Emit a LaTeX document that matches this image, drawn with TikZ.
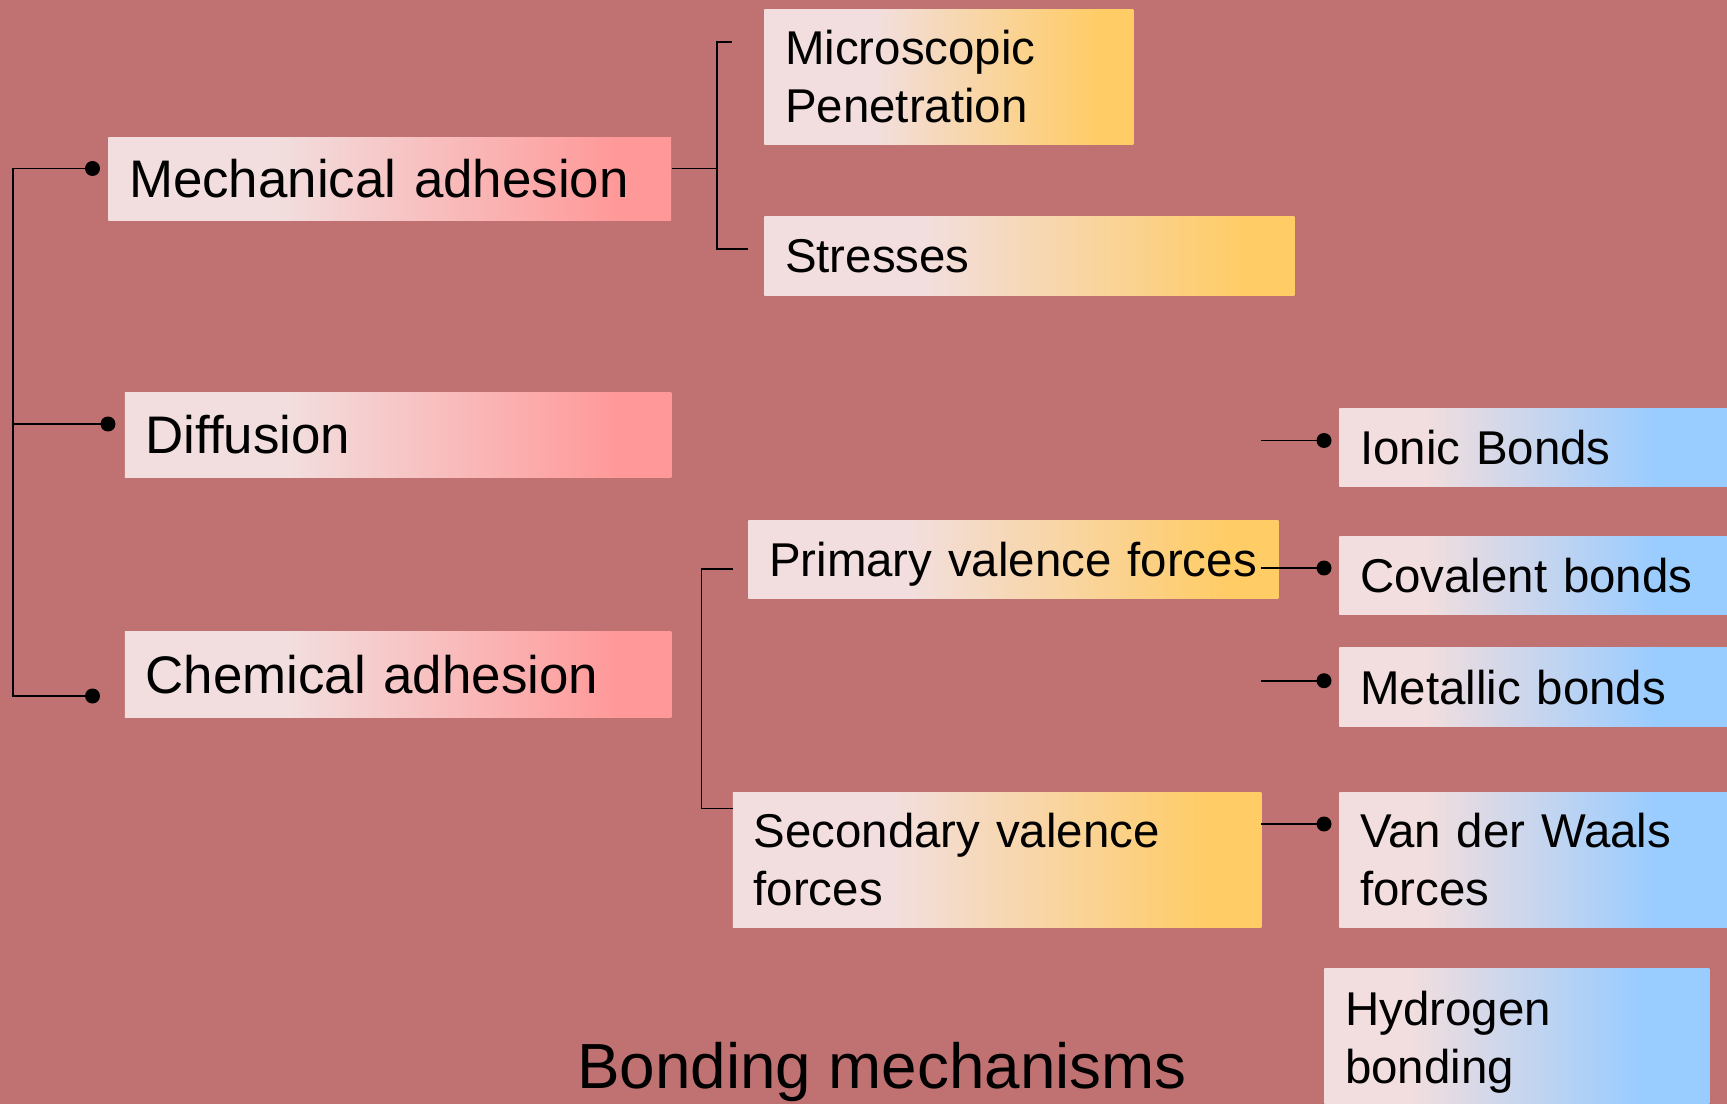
\documentclass[tikz,border=0pt]{standalone}
\usepackage{fontspec}
\setmainfont{Liberation Sans}
\definecolor{bg}{RGB}{192,114,114}
\definecolor{pale}{RGB}{242,222,222}
\definecolor{redend}{RGB}{255,153,153}
\definecolor{orangeend}{RGB}{255,204,102}
\definecolor{blueend}{RGB}{153,204,255}
\pgfdeclarehorizontalshading{redfade}{100bp}{color(0bp)=(pale); color(40bp)=(pale); color(70bp)=(redend); color(100bp)=(redend)}
\pgfdeclarehorizontalshading{orangefade}{100bp}{color(0bp)=(pale); color(40bp)=(pale); color(70bp)=(orangeend); color(100bp)=(orangeend)}
\pgfdeclarehorizontalshading{bluefade}{100bp}{color(0bp)=(pale); color(36bp)=(pale); color(66bp)=(blueend); color(100bp)=(blueend)}
\begin{document}
\begin{tikzpicture}[x=0.02cm, y=-0.02cm,
        conn/.style={line width=1.1pt},
        box/.style={anchor=north west, inner xsep=0.415cm, inner ysep=0pt, align=left, shade},
        redbox/.style={box, shading=redfade, font=\fontsize{30.1}{36}\selectfont},
        orangebox/.style={box, shading=orangefade, font=\fontsize{27}{33}\selectfont},
        bluebox/.style={box, shading=bluefade, font=\fontsize{27}{33}\selectfont}]
        \fill[bg] (0, 0) rectangle (1727, 1104);
        \useasboundingbox (0, 0) rectangle (1727, 1104);

        \node[redbox, text width=10.43cm, minimum height=1.66cm] (mech) at (108, 137) {Mechanical adhesion};
        \node[redbox, text width=10.10cm, minimum height=1.70cm] (diff) at (124.5, 392) {Diffusion};
        \node[redbox, text width=10.10cm, minimum height=1.72cm] (chem) at (124.5, 631) {Chemical adhesion};

        \node[orangebox, text width=6.55cm, minimum height=2.70cm] (micro) at (764, 9) {Microscopic\\Penetration};
        \node[orangebox, text width=9.77cm, minimum height=1.58cm] (stress) at (764, 216) {Stresses};
        \node[orangebox, text width=9.77cm, minimum height=1.56cm, text depth=0pt] (prim) at (748, 520) {Primary valence forces};
        \node[orangebox, text width=9.74cm, minimum height=2.70cm] (sec) at (732.5, 792) {Secondary valence\\forces};

        \node[bluebox, text width=6.93cm, minimum height=1.55cm] (ionic) at (1339, 408.6) {Ionic Bonds};
        \node[bluebox, text width=6.93cm, minimum height=1.57cm] (coval) at (1339, 536) {Covalent bonds};
        \node[bluebox, text width=6.93cm, minimum height=1.57cm] (metal) at (1339, 647.6) {Metallic bonds};
        \node[bluebox, text width=6.93cm, minimum height=2.70cm] (vdw) at (1339, 792) {Van der Waals\\forces};
        \node[bluebox, text width=6.87cm, minimum height=2.94cm] (hydro) at (1324, 968) {Hydrogen\\bonding};

        \node[font=\fontsize{36.3}{43}\selectfont, anchor=base] (title) at (882, 1088) {Bonding mechanisms};

        % left tree
        \coordinate (dmech) at (92.5, 168.5);
        \coordinate (ddiff) at (108, 424);
        \coordinate (dchem) at (92.5, 696);
        \coordinate (ltop) at (13, 168.5);
        \coordinate (lmid) at (13, 424);
        \coordinate (lbot) at (13, 696);
        \draw[conn] (dmech) -- (ltop) -- (lbot) -- (dchem);
        \draw[conn] (lmid) -- (ddiff);
        \foreach \d in {dmech, ddiff, dchem}
            \fill (\d) circle (0.15cm);

        % mechanical bracket
        \coordinate (mout) at (mech.east |- dmech);
        \coordinate (mjoin) at (717, 168.5);
        \coordinate (mtop) at (717, 42);
        \coordinate (mbot) at (717, 249);
        \coordinate (mtick) at (732, 42);
        \coordinate (stick) at (748, 249);
        \draw[conn] (mout) -- (mjoin);
        \draw[conn] (mtick) -- (mtop) -- (mbot) -- (stick);

        % chemical bracket
        \coordinate (ctop) at (701.5, 569);
        \coordinate (cbot) at (701.5, 808.5);
        \coordinate (ptick) at (732.5, 569);
        \coordinate (sectick) at (sec.west |- cbot);
        \draw[conn] (ptick) -- (ctop) -- (cbot) -- (sectick);

        % right side
        \foreach \n/\y in {ionic/440.5, coval/568, metal/680.7, vdw/824} {
            \coordinate (s\n) at (1261, \y);
            \coordinate (d\n) at (1324, \y);
            \draw[conn] (s\n) -- (d\n);
            \fill (d\n) circle (0.15cm);
        }
    \end{tikzpicture}
\end{document}
